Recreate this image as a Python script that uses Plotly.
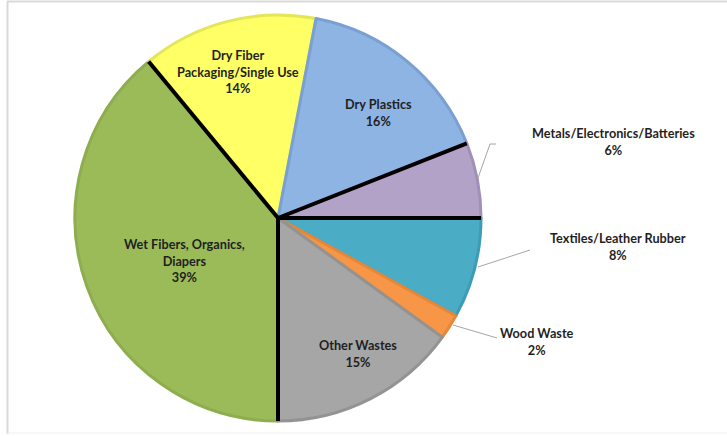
import math
import plotly.graph_objects as go

# ---- data ----
categories = ["Wet Fibers, Organics,<br>Diapers", "Dry Fiber<br>Packaging/Single Use", "Dry Plastics",
              "Metals/Electronics/Batteries", "Textiles/Leather Rubber", "Wood Waste", "Other Wastes"]
values = [39, 14, 16, 6, 8, 2, 15]
pct_labels = ["39%", "14%", "16%", "6%", "8%", "2%", "15%"]

# ---- style ----
fill_colors = ["#9BBB59", "#FFFF66", "#8EB4E3", "#B3A2C7", "#4BACC6", "#F79646", "#A6A6A6"]
edge_colors = ["#8DAD4F", "#E4E65A", "#7A9FD3", "#A090B8", "#3E9BB5", "#E5873A", "#939393"]
black_edges = [0, 1, 3, 4]  # boundaries (cumulative index) drawn with heavy black lines

W, H = 727, 436
CX, CY, R = 278, 218, 203

def px(x, y):
    return x / W, (H - y) / H

fig = go.Figure(go.Pie(
    labels=[c.replace("<br>", " ") for c in categories],
    values=values,
    sort=False,
    direction="clockwise",
    rotation=180,
    textinfo="none",
    hoverinfo="label+percent",
    marker=dict(colors=fill_colors, line=dict(color=edge_colors, width=3)),
    domain=dict(x=[(CX - R) / W, (CX + R) / W], y=[(H - CY - R) / H, (H - CY + R) / H]),
    showlegend=False,
))

shapes = []
total = sum(values)
cum = [0]
for v in values:
    cum.append(cum[-1] + v)
for i in black_edges:
    a = math.radians(180 + cum[i] / total * 360)
    x0, y0 = px(CX, CY)
    x1, y1 = px(CX + R * math.sin(a), CY - R * math.cos(a))
    shapes.append(dict(type="line", xref="paper", yref="paper", x0=x0, y0=y0, x1=x1, y1=y1,
                       line=dict(color="black", width=4)))

# leader lines
leaders = [
    [(478, 178), (490, 144), (496, 144)],
    [(478, 267), (530, 250)],
    [(453, 325), (497, 338)],
]
for pts in leaders:
    path = "M " + " L ".join(f"{px(x, y)[0]},{px(x, y)[1]}" for x, y in pts)
    shapes.append(dict(type="path", xref="paper", yref="paper", path=path,
                       line=dict(color="#A6A6A6", width=1)))

# frame
shapes.append(dict(type="line", xref="paper", yref="paper", x0=px(7, 1.5)[0], y0=px(7, 1.5)[1],
                   x1=1, y1=px(7, 1.5)[1], line=dict(color="#D9D9D9", width=2)))
shapes.append(dict(type="line", xref="paper", yref="paper", x0=px(7.5, 1.5)[0], y0=px(7.5, 1.5)[1],
                   x1=px(7.5, 434)[0], y1=px(7.5, 434)[1], line=dict(color="#D9D9D9", width=2)))
shapes.append(dict(type="line", xref="paper", yref="paper", x0=px(7.5, 433)[0], y0=px(7.5, 433)[1],
                   x1=1, y1=px(7.5, 433)[1], line=dict(color="#F0F0F0", width=1)))

label_pos = [(185, 260), (238, 71.5), (378, 113), (613, 141), (618, 246.5), (537, 341.5), (358, 353.5)]
annotations = []
for cat, pct, (x, y) in zip(categories, pct_labels, label_pos):
    ax, ay = px(x, y)
    annotations.append(dict(x=ax, y=ay, xref="paper", yref="paper", showarrow=False,
                            text=f"<b>{cat}<br>{pct}</b>", align="center",
                            xanchor="center", yanchor="middle",
                            font=dict(family="Lato", size=12.7, color="#1F1F1F")))

fig.update_layout(width=W, height=H, margin=dict(l=0, r=0, t=0, b=0),
                  paper_bgcolor="white", plot_bgcolor="white",
                  shapes=shapes, annotations=annotations)

fig.write_html("out.html")
